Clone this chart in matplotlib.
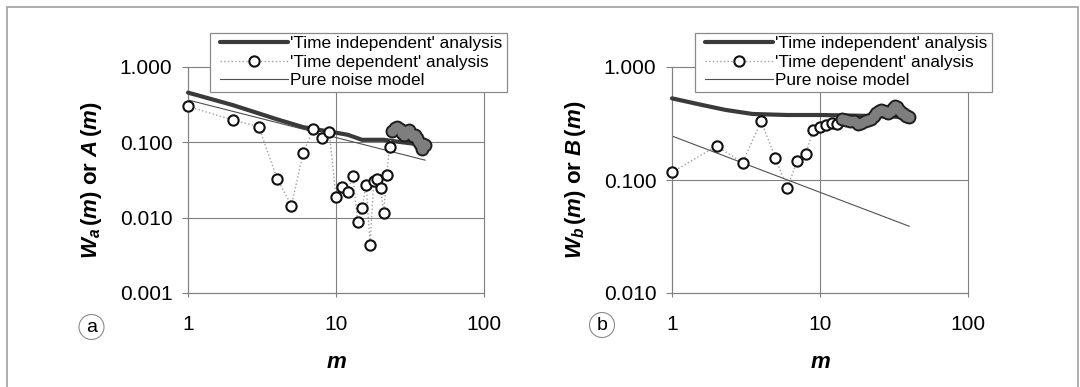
import matplotlib
matplotlib.use('Agg')
import matplotlib.pyplot as plt
from matplotlib.patches import Rectangle, Ellipse

plt.rcParams['font.family'] = ['Liberation Sans', 'DejaVu Sans']
plt.rcParams['mathtext.fontset'] = 'custom'
plt.rcParams['mathtext.rm'] = 'Liberation Sans:bold'
plt.rcParams['mathtext.it'] = 'Liberation Sans:italic:bold'
plt.rcParams['mathtext.bf'] = 'Liberation Sans:bold'

#########################################################################
## data
m_vals = list(range(1, 41))

# panel a : W_a(m) / A(m)
dep_a = [0.30, 0.198, 0.162, 0.033, 0.0145, 0.072, 0.149, 0.113, 0.136, 0.0189,
         0.0259, 0.0222, 0.0358, 0.0087, 0.0136, 0.0272, 0.0044, 0.0308, 0.0327, 0.0246,
         0.0115, 0.037, 0.086, 0.14, 0.155, 0.16, 0.15, 0.133, 0.125, 0.14,
         0.145, 0.13, 0.12, 0.125, 0.115, 0.105, 0.095, 0.081, 0.095, 0.092]
cluster_from_a = 24
ti_m_a = [1, 2, 4, 6, 9, 12, 15, 21, 26, 40]
ti_a = [0.457, 0.313, 0.202, 0.159, 0.139, 0.126, 0.108, 0.108, 0.102, 0.092]

# panel b : W_b(m) / B(m)
dep_b = [0.117, 0.2, 0.142, 0.331, 0.157, 0.0844, 0.147, 0.169, 0.277, 0.293,
         0.307, 0.321, 0.313, 0.35, 0.34, 0.33, 0.33, 0.31, 0.32, 0.33,
         0.34, 0.35, 0.37, 0.39, 0.41, 0.42, 0.41, 0.40, 0.39, 0.41,
         0.43, 0.45, 0.44, 0.42, 0.40, 0.39, 0.38, 0.37, 0.37, 0.36]
cluster_from_b = 14
ti_m_b = [1, 1.6, 2.3, 3.5, 6, 10, 20, 40]
ti_b = [0.528, 0.461, 0.417, 0.384, 0.376, 0.376, 0.37, 0.36]

# pure noise model (straight line in log-log)
noise_m = [1, 40]
noise_a = [0.365, 0.058]
noise_b = [0.245, 0.039]

x_ticks = [1, 10, 100]
x_labels = ['1', '10', '100']
y_ticks_a = [0.001, 0.01, 0.1, 1.0]
y_labels_a = ['0.001', '0.010', '0.100', '1.000']
y_ticks_b = [0.01, 0.1, 1.0]
y_labels_b = ['0.010', '0.100', '1.000']

legend_labels = ["'Time independent' analysis", "'Time dependent' analysis", "Pure noise model"]

#########################################################################
## plot
W, H = 1080, 387
fig = plt.figure(figsize=(10.8, 3.87), dpi=100)


def fx(px):
    return px / W


def fy(py):
    return 1 - py / H


def draw_panel(left, dep, cluster_from, ti_m, ti_v, noise_v, yticks, ylabels,
               ylabel, tag, tag_xy, leg_x):
    ax = fig.add_axes([fx(left), fy(293), 296 / W, 226 / H])
    ax.set_xscale('log')
    ax.set_yscale('log')

    h_noise, = ax.plot(noise_m, noise_v, color='#505050', lw=0.8, zorder=2)
    h_ti, = ax.plot(ti_m, ti_v, color='#3a3a3a', lw=3, solid_capstyle='round',
                    zorder=3, clip_on=False)
    h_dep, = ax.plot(m_vals, dep, ls=':', color='#a0a0a0', lw=1.0, marker='o', ms=7.4,
                     mfc='white', mec='#111111', mew=1.5, zorder=4, clip_on=False)
    # dense cluster of points prints as a grey blob
    k = m_vals.index(cluster_from)
    ax.plot(m_vals[k:], dep[k:], ls='none', marker='o', ms=10.0, color='#1e1e1e',
            mew=0, zorder=5, clip_on=False)
    ax.plot(m_vals[k:], dep[k:], ls='none', marker='o', ms=7.2, color='#7e7e7e',
            mew=0, zorder=5.1, clip_on=False)

    ax.set_xlim(1, 100)
    ax.set_ylim(yticks[0], yticks[-1])
    ax.set_xticks(x_ticks, x_labels)
    ax.set_yticks(yticks, ylabels)
    ax.minorticks_off()
    ax.tick_params(axis='y', length=4.3, width=0.8, color='#808080', pad=7, labelsize=15)
    ax.tick_params(axis='x', length=3, width=0.8, color='#808080', pad=13, labelsize=15)
    ax.grid(True, color='#808080', lw=0.8)
    ax.set_axisbelow(True)
    for ln in ax.get_xgridlines() + ax.get_ygridlines():
        ln.set_clip_on(False)
    for s in ['top', 'right']:
        ax.spines[s].set_visible(False)
    for s in ['left', 'bottom']:
        ax.spines[s].set_color('#808080')
        ax.spines[s].set_linewidth(0.8)

    # legend box (white, covers the grid) + legend entries
    fig.add_artist(Rectangle((fx(leg_x), fy(92)), 297 / W, 59 / H, transform=fig.transFigure,
                             fc='white', ec='#8a8a8a', lw=0.9, zorder=4))
    leg = fig.legend(handles=[h_ti, h_dep, h_noise], labels=legend_labels, loc='upper left',
                     bbox_to_anchor=(fx(leg_x + 10), fy(36)), bbox_transform=fig.transFigure,
                     frameon=False, borderpad=0, borderaxespad=0, handlelength=3.95,
                     handletextpad=0.1, labelspacing=0.2, fontsize=12.4, numpoints=1)
    leg.set_zorder(5)

    centre = left + 148
    fig.text(fx(left - 96), fy(180), ylabel, rotation=90, ha='center', va='center',
             fontsize=16, fontweight='bold')
    fig.text(fx(centre), fy(362), r'$m$', ha='center', va='center', fontsize=16)

    fig.add_artist(Ellipse((fx(tag_xy[0]), fy(tag_xy[1])), 25 / W, 25 / H,
                           transform=fig.transFigure, fill=False, ec='#8a8a8a', lw=0.8))
    fig.text(fx(tag_xy[0]), fy(tag_xy[1] + 1), tag, ha='center', va='center', fontsize=14)
    return ax


draw_panel(188, dep_a, cluster_from_a, ti_m_a, ti_a, noise_a, y_ticks_a, y_labels_a,
           r'$W_a\,(m)$ or $A\,(m)$', 'a', (91.5, 327), 210)
draw_panel(672, dep_b, cluster_from_b, ti_m_b, ti_b, noise_b, y_ticks_b, y_labels_b,
           r'$W_b\,(m)$ or $B\,(m)$', 'b', (602, 325), 695)

# outer frame
fig.add_artist(Rectangle((fx(7), -0.05), 1071 / W, fy(7) + 0.05, transform=fig.transFigure,
                         fill=False, ec='#a0a0a0', lw=1.2))

fig.savefig('out.png', dpi=100)
